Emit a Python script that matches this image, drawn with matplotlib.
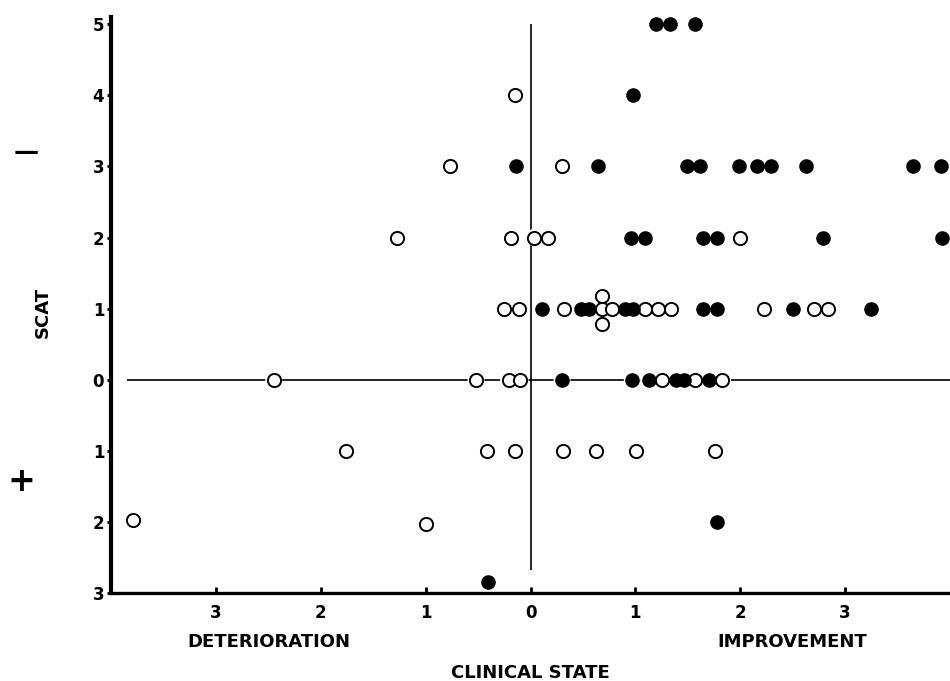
import numpy as np
import matplotlib
matplotlib.use("Agg")
import matplotlib.pyplot as plt

# open circles (x = clinical state, y = SCAT)
open_x = [-0.15,
          -0.77, 0.30,
          -1.27, -0.19, 0.03, 0.17, 2.00,
          -0.25, -0.11, 0.32, 0.68, 0.78, 1.09, 1.22, 1.34, 2.23, 2.70, 2.84,
          0.68, 0.68,
          -2.45, -0.52, -0.21, -0.10, 1.25, 1.57, 1.83,
          -1.76, -0.42, -0.15, 0.31, 0.62, 1.01, 1.76,
          -3.79, -1.00]
open_y = [4,
          3, 3,
          2, 2, 2, 2, 2,
          1, 1, 1, 1, 1, 1, 1, 1, 1, 1, 1,
          1.18, 0.78,
          0, 0, 0, 0, 0, 0, 0,
          -1, -1, -1, -1, -1, -1, -1,
          -1.97, -2.03]

# filled circles
filled_x = [1.20, 1.33, 1.57,
            0.98,
            -0.14, 0.64, 1.49, 1.62, 1.99, 2.16, 2.29, 2.63, 3.65, 3.91,
            0.96, 1.09, 1.64, 1.78, 2.79, 3.92,
            0.11, 0.48, 0.56, 0.90, 0.98, 1.64, 1.78, 2.50, 3.25,
            0.30, 0.97, 1.13, 1.39, 1.46, 1.70,
            1.78,
            -0.41]
filled_y = [5, 5, 5,
            4,
            3, 3, 3, 3, 3, 3, 3, 3, 3, 3,
            2, 2, 2, 2, 2, 2,
            1, 1, 1, 1, 1, 1, 1, 1, 1,
            0, 0, 0, 0, 0, 0,
            -2,
            -2.84]

x_ticks = [-3, -2, -1, 0, 1, 2, 3]
x_labels = ["3", "2", "1", "0", "1", "2", "3"]
y_ticks = [-3, -2, -1, 0, 1, 2, 3, 4, 5]
y_labels = ["3", "2", "1", "0", "1", "2", "3", "4", "5"]

plt.rcParams['font.family'] = ['DejaVu Sans']
plt.rcParams['font.weight'] = 'bold'

fig = plt.figure(figsize=(9.5, 6.81), dpi=100)
ax = fig.add_axes([0.117, 0.129, 0.883, 0.846])

# crosshair through the origin
ax.hlines(0, -3.85, 4, color="black", lw=1.2, zorder=1)
ax.vlines(0, -2.68, 5, color="black", lw=1.2, zorder=1)

all_x = open_x + filled_x
all_y = open_y + filled_y
# white halo under every point so the crosshair breaks around them
ax.scatter(all_x, all_y, s=150, facecolors="white", edgecolors="none",
           zorder=2, clip_on=False)
ax.scatter(open_x, open_y, s=90, facecolors="white", edgecolors="black",
           linewidths=1.4, zorder=3, clip_on=False)
ax.scatter(filled_x, filled_y, s=90, facecolors="black", edgecolors="black",
           linewidths=1.0, zorder=3, clip_on=False)

ax.set_xlim(-4, 4)
ax.set_ylim(-3, 5.1)

ax.spines['top'].set_visible(False)
ax.spines['right'].set_visible(False)
ax.spines['left'].set_linewidth(3)
ax.spines['bottom'].set_linewidth(2.4)

ax.set_xticks(x_ticks)
ax.set_xticklabels(x_labels, fontsize=12, fontweight="bold")
ax.set_yticks(y_ticks)
ax.set_yticklabels(y_labels, fontsize=12, fontweight="bold")
ax.tick_params(axis="x", direction="in", length=4, width=2, pad=8)
ax.tick_params(axis="y", direction="out", length=3, width=2, pad=2)

# axis annotations
xt = ax.get_xaxis_transform()
ax.text(-2.5, -0.085, "DETERIORATION", transform=xt, ha="center", va="center",
        fontsize=13, fontweight="bold")
ax.text(2.5, -0.085, "IMPROVEMENT", transform=xt, ha="center", va="center",
        fontsize=13, fontweight="bold")
ax.text(0, -0.139, "CLINICAL STATE", transform=xt, ha="center", va="center",
        fontsize=13, fontweight="bold")

yt = ax.get_yaxis_transform()
ax.text(-0.082, 0.95, "SCAT", transform=yt, rotation=90, ha="center", va="center",
        fontsize=13, fontweight="bold")
ax.text(-0.101, 3.2, "\u2014", transform=yt, ha="center", va="center",
        fontsize=18, fontweight="bold")
ax.text(-0.107, -1.43, "+", transform=yt, ha="center", va="center",
        fontsize=24, fontweight="bold")

fig.savefig("out.png", dpi=100)
